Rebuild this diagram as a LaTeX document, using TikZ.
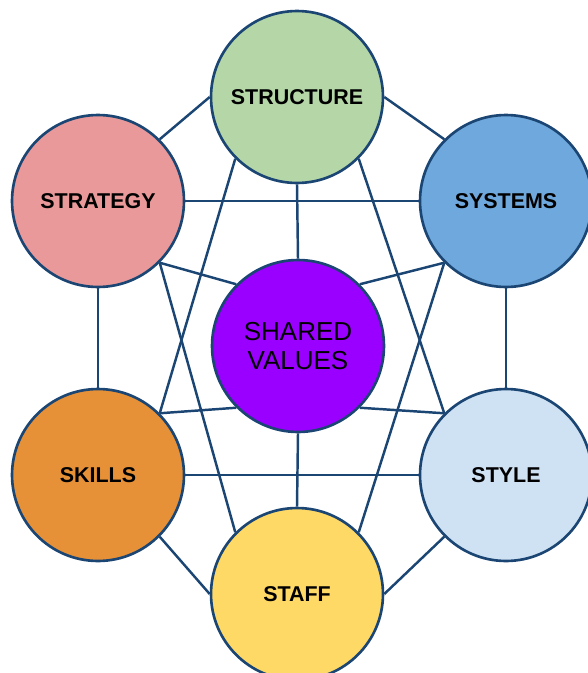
\documentclass[tikz,border=0pt]{standalone}
\usepackage{fontspec}
\setmainfont{Liberation Sans}

\definecolor{edgeblue}{HTML}{1B4674}
\definecolor{structgreen}{HTML}{B5D7A8}
\definecolor{stratpink}{HTML}{E99999}
\definecolor{sysblue}{HTML}{6FA8DC}
\definecolor{valpurple}{HTML}{9900FF}
\definecolor{skillorange}{HTML}{E69138}
\definecolor{stylelight}{HTML}{CFE2F3}
\definecolor{staffyellow}{HTML}{FFD966}

\tikzset{
    sbox/.style={circle, draw=edgeblue, line width=1.5pt, minimum size=3.44cm,
        inner sep=0pt, text=black, font=\bfseries\fontsize{12.2}{14}\selectfont},
    link/.style={draw=edgeblue, line width=1.4pt}
}

\begin{document}
\begin{tikzpicture}[x=0.02cm, y=-0.02cm]
        \useasboundingbox (0, 0) rectangle (588, 673);

        \node[sbox, fill=structgreen] (structure) at (297, 97) {STRUCTURE};
        \node[sbox, fill=stratpink] (strategy) at (98, 201) {STRATEGY};
        \node[sbox, fill=sysblue] (systems) at (506, 201) {SYSTEMS};
        \node[sbox, fill=valpurple, align=center,
              font=\fontsize{14.8}{16.5}\selectfont] (shared) at (298, 346) {SHARED\\VALUES};
        \node[sbox, fill=skillorange] (skills) at (98, 475) {SKILLS};
        \node[sbox, fill=stylelight] (style) at (506, 475) {STYLE};
        \node[sbox, fill=staffyellow] (staff) at (297, 594) {STAFF};

        \draw[link] (strategy.north east) -- (structure.west);
        \draw[link] (structure.east) -- (systems.north west);
        \draw[link] (structure.south) -- (shared.north);
        \draw[link] (structure.south west) -- (skills.north east);
        \draw[link] (structure.south east) -- (style.north west);

        \draw[link] (strategy.east) -- (systems.west);
        \draw[link] (strategy.south east) -- (shared.north west);
        \draw[link] (strategy.south east) -- (staff.north west);
        \draw[link] (strategy.south) -- (skills.north);

        \draw[link] (systems.south west) -- (shared.north east);
        \draw[link] (systems.south west) -- (staff.north east);
        \draw[link] (systems.south) -- (style.north);

        \draw[link] (skills.north east) -- (shared.south west);
        \draw[link] (skills.east) -- (style.west);
        \draw[link] (skills.south east) -- (staff.west);

        \draw[link] (style.north west) -- (shared.south east);
        \draw[link] (style.south west) -- (staff.east);
        \draw[link] (shared.south) -- (staff.north);

    \end{tikzpicture}
\end{document}
